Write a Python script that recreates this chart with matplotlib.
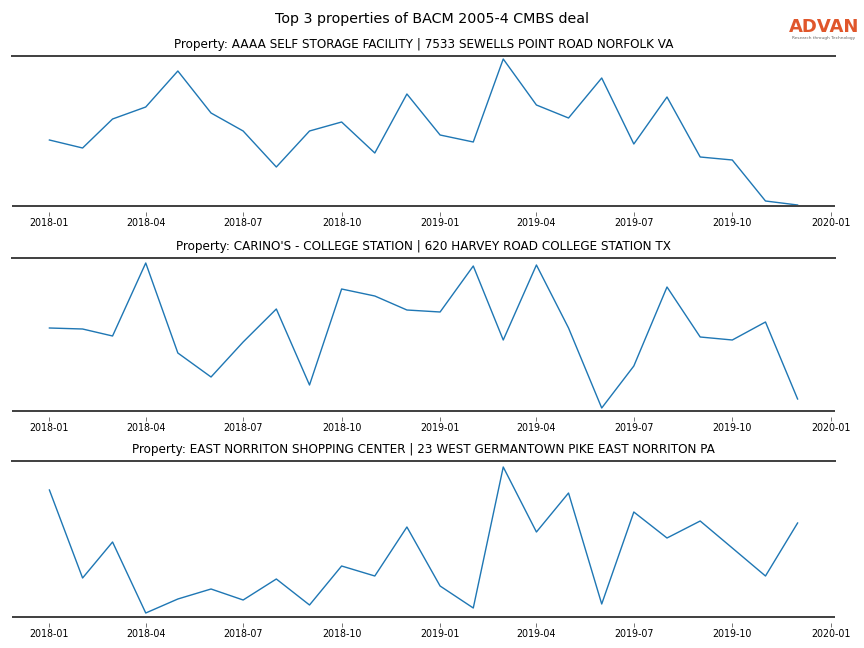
import matplotlib
matplotlib.use("Agg")
import matplotlib.pyplot as plt
import matplotlib.dates as mdates
import pandas as pd

months = pd.date_range("2018-01-01", "2019-12-01", freq="MS")

titles = [
    "Property: AAAA SELF STORAGE FACILITY | 7533 SEWELLS POINT ROAD NORFOLK VA",
    "Property: CARINO'S - COLLEGE STATION | 620 HARVEY ROAD COLLEGE STATION TX",
    "Property: EAST NORRITON SHOPPING CENTER | 23 WEST GERMANTOWN PIKE EAST NORRITON PA",
]

series1 = [66, 58, 87, 99, 135, 93, 75, 39, 75, 84, 53, 112,
           71, 64, 147, 101, 88, 128, 62, 109, 49, 46, 5, 1]
series2 = [83, 82, 75, 148, 58, 34, 69, 102, 26, 122, 115, 101,
           99, 145, 71, 146, 83, 3, 45, 124, 74, 71, 89, 12]
series3 = [127, 39, 75, 4, 18, 28, 17, 38, 12, 51, 41, 90,
           31, 9, 150, 85, 124, 13, 105, 79, 96, 69, 41, 94]
series = [series1, series2, series3]
ylims = [(0, 150), (0, 153), (0, 156)]

tick_dates = pd.date_range("2018-01-01", "2020-01-01", freq="3MS")

fig = plt.figure(figsize=(12, 9), dpi=72)
positions = [(56, 206), (258, 411), (461, 617)]
for i, (top, bot) in enumerate(positions):
    ax = fig.add_axes([12 / 864, 1 - bot / 648, (835 - 12) / 864, (bot - top) / 648])
    ax.plot(months, series[i], color="#1f77b4", linewidth=1.4)
    ax.set_ylim(*ylims[i])
    ax.set_title(titles[i], fontsize=12, pad=8)
    for s in ("left", "right", "bottom"):
        ax.spines[s].set_visible(False)
    ax.spines["bottom"].set_position(("outward", 6))
    ax.spines["top"].set_color("#444444")
    ax.spines["top"].set_linewidth(2)
    ax.plot([0, 1], [0, 0], transform=ax.transAxes, color="#444444",
            linewidth=2, clip_on=False, solid_capstyle="butt")
    ax.set_yticks([])
    ax.set_xticks(tick_dates)
    ax.xaxis.set_major_formatter(mdates.DateFormatter("%Y-%m"))
    ax.tick_params(axis="x", labelsize=9.5, length=4, width=1, color="#777777", pad=2)

fig.text(0.5, 1 - 19 / 648, "Top 3 properties of BACM 2005-4 CMBS deal",
         ha="center", va="center", fontsize=14.3)
fig.text(824 / 864, 1 - 27 / 648, "ADVAN", ha="center", va="center",
         fontsize=18, color="#e0562b", fontweight="semibold")
fig.text(824 / 864, 1 - 38 / 648, "Research through Technology", ha="center",
         va="center", fontsize=4.2, color="#666666")

fig.savefig("out.png", dpi=72)
